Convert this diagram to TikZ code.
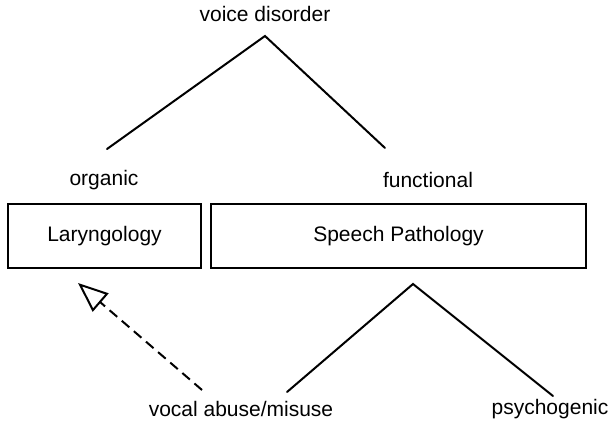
\documentclass[tikz,border=0pt]{standalone}
\usepackage{fontspec}
\setmainfont{Liberation Sans}
\usetikzlibrary{arrows.meta}
\begin{document}
\begin{tikzpicture}[x=1pt,y=-1pt,
  lbl/.style={font=\fontsize{21}{24}\selectfont, inner sep=0pt},
  ln/.style={line width=2pt, line cap=round, line join=miter},
  boxstyle/.style={draw, line width=2pt, minimum height=64pt, inner sep=0pt, font=\fontsize{21}{24}\selectfont}]
\useasboundingbox (0,0) rectangle (613,422);
\node[lbl] (vd) at (265,14) {voice disorder};
\coordinate (apex1) at (265,36);
\coordinate (l1) at (107,149);
\coordinate (r1) at (385,148);
\draw[ln] (l1) -- (apex1) -- (r1);
\node[lbl] (org) at (104,180) {organic};
\node[lbl] (fun) at (428,180) {functional};
\node[boxstyle, minimum width=193pt] (lar) at (104.5,236) {Laryngology};
\node[boxstyle, minimum width=375pt] (sp) at (398.5,236) {Speech Pathology};
\coordinate (apex2) at (413,284);
\coordinate (l2) at (287,392);
\coordinate (r2) at (553,396);
\draw[ln] (l2) -- (apex2) -- (r2);
\node[lbl] (vam) at (241,409) {vocal abuse/misuse};
\node[lbl] (psy) at (550,409) {psychogenic};
\coordinate (tip) at (78,283);
\coordinate (tail) at (202,390);
\draw[line width=2pt, dash pattern=on 10pt off 6pt, -{Triangle[open, length=30pt, width=24pt, line width=2pt]}] (tail) -- (tip);
\end{tikzpicture}
\end{document}
